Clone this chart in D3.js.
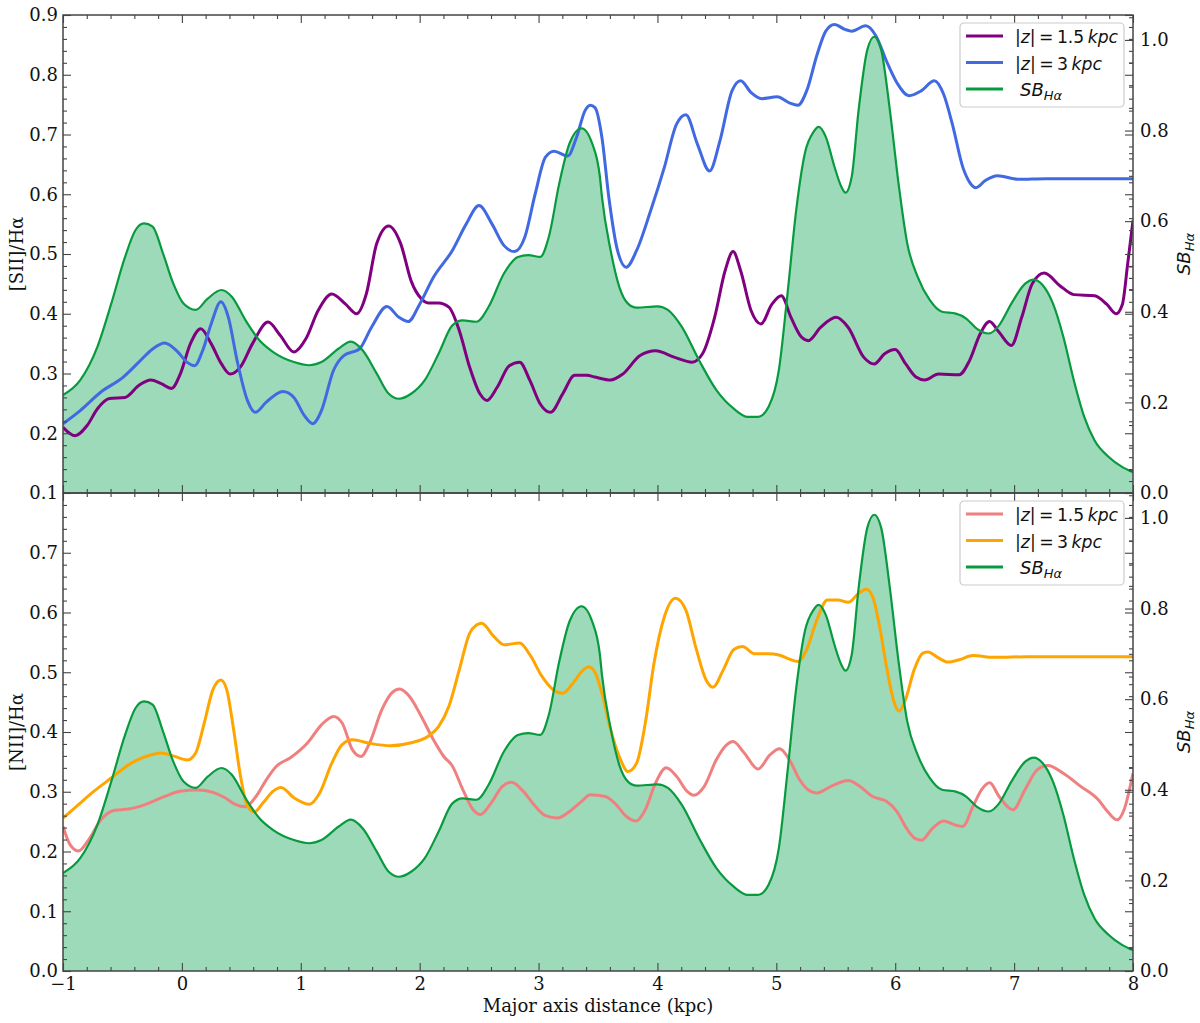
<!DOCTYPE html>
<html>
<head>
<meta charset="utf-8">
<script src="https://cdn.jsdelivr.net/npm/d3@7"></script>
<style>
  body { margin: 0; background: #fff; }
  svg text { fill: #111; }
</style>
</head>
<body>
<div id="chart"></div>
<script>
// data: [distance (kpc), value]
let sbHa = [[-1.0,0.216],[-0.855,0.249],[-0.71,0.323],[-0.594,0.418],[-0.478,0.521],[-0.391,0.580],[-0.319,0.595],[-0.246,0.588],[-0.159,0.529],[-0.072,0.462],[0.014,0.418],[0.116,0.404],[0.217,0.429],[0.333,0.448],[0.42,0.433],[0.536,0.381],[0.652,0.337],[0.768,0.311],[0.942,0.289],[1.072,0.282],[1.174,0.289],[1.319,0.319],[1.42,0.334],[1.52,0.315],[1.638,0.264],[1.74,0.219],[1.826,0.208],[1.928,0.219],[2.043,0.249],[2.16,0.308],[2.275,0.370],[2.362,0.381],[2.478,0.378],[2.58,0.411],[2.71,0.485],[2.826,0.521],[2.913,0.525],[3.014,0.521],[3.087,0.566],[3.174,0.683],[3.261,0.772],[3.362,0.805],[3.45,0.772],[3.516,0.698],[3.533,0.654],[3.606,0.536],[3.679,0.455],[3.752,0.418],[3.825,0.409],[4.0,0.412],[4.088,0.404],[4.204,0.367],[4.35,0.293],[4.496,0.227],[4.642,0.186],[4.759,0.168],[4.846,0.168],[4.934,0.19],[5.021,0.271],[5.094,0.440],[5.167,0.624],[5.24,0.750],[5.313,0.797],[5.357,0.808],[5.416,0.786],[5.489,0.720],[5.547,0.676],[5.582,0.663],[5.634,0.698],[5.692,0.845],[5.765,0.978],[5.824,1.007],[5.882,0.978],[5.955,0.845],[6.028,0.683],[6.101,0.551],[6.189,0.477],[6.29,0.426],[6.393,0.4],[6.51,0.396],[6.597,0.385],[6.685,0.363],[6.787,0.352],[6.874,0.370],[6.977,0.418],[7.093,0.462],[7.166,0.471],[7.239,0.459],[7.327,0.418],[7.414,0.345],[7.502,0.249],[7.59,0.168],[7.677,0.116],[7.794,0.080],[7.911,0.057],[8.0,0.046]];

let sii15 = [[-1.0,0.210],[-0.899,0.196],[-0.797,0.213],[-0.71,0.241],[-0.609,0.258],[-0.478,0.260],[-0.362,0.280],[-0.261,0.289],[-0.174,0.283],[-0.087,0.275],[-0.014,0.299],[0.072,0.350],[0.159,0.375],[0.246,0.350],[0.333,0.316],[0.406,0.299],[0.493,0.311],[0.594,0.350],[0.725,0.386],[0.826,0.364],[0.942,0.336],[1.043,0.358],[1.145,0.405],[1.261,0.433],[1.377,0.416],[1.47,0.400],[1.551,0.433],[1.638,0.517],[1.739,0.547],[1.841,0.517],[1.928,0.455],[2.014,0.425],[2.072,0.418],[2.159,0.418],[2.246,0.411],[2.333,0.372],[2.42,0.311],[2.507,0.266],[2.565,0.255],[2.652,0.277],[2.754,0.313],[2.841,0.319],[2.928,0.288],[3.014,0.249],[3.101,0.235],[3.203,0.266],[3.304,0.297],[3.406,0.297],[3.475,0.294],[3.606,0.289],[3.708,0.299],[3.854,0.330],[3.985,0.338],[4.146,0.327],[4.292,0.319],[4.379,0.333],[4.481,0.394],[4.569,0.472],[4.636,0.504],[4.7,0.472],[4.788,0.405],[4.87,0.383],[4.963,0.416],[5.042,0.430],[5.123,0.394],[5.211,0.361],[5.269,0.355],[5.372,0.377],[5.503,0.394],[5.605,0.377],[5.736,0.327],[5.824,0.316],[5.911,0.333],[6.0,0.340],[6.088,0.316],[6.175,0.294],[6.248,0.289],[6.365,0.299],[6.539,0.298],[6.626,0.322],[6.714,0.366],[6.793,0.387],[6.874,0.369],[6.977,0.347],[7.064,0.394],[7.152,0.450],[7.254,0.468],[7.385,0.447],[7.502,0.432],[7.677,0.430],[7.779,0.416],[7.858,0.400],[7.911,0.416],[7.955,0.483],[8.0,0.556]];

let sii3 = [[-1.0,0.216],[-0.855,0.238],[-0.681,0.269],[-0.493,0.294],[-0.362,0.319],[-0.246,0.341],[-0.145,0.351],[-0.043,0.338],[0.043,0.319],[0.107,0.313],[0.174,0.338],[0.246,0.383],[0.328,0.420],[0.391,0.394],[0.464,0.322],[0.551,0.255],[0.617,0.235],[0.71,0.252],[0.849,0.270],[0.942,0.260],[1.029,0.230],[1.101,0.216],[1.174,0.238],[1.275,0.305],[1.362,0.330],[1.493,0.341],[1.594,0.377],[1.725,0.412],[1.826,0.394],[1.904,0.387],[2.0,0.416],[2.116,0.461],[2.275,0.506],[2.391,0.550],[2.499,0.581],[2.609,0.550],[2.71,0.514],[2.797,0.504],[2.884,0.528],[2.971,0.600],[3.058,0.662],[3.13,0.672],[3.246,0.664],[3.319,0.695],[3.391,0.740],[3.435,0.749],[3.475,0.745],[3.533,0.695],[3.591,0.595],[3.664,0.506],[3.737,0.478],[3.825,0.506],[3.942,0.572],[4.058,0.645],[4.16,0.717],[4.239,0.733],[4.336,0.684],[4.438,0.639],[4.525,0.689],[4.627,0.773],[4.7,0.790],[4.788,0.770],[4.876,0.760],[5.007,0.763],[5.109,0.753],[5.182,0.749],[5.255,0.773],[5.343,0.834],[5.416,0.873],[5.489,0.884],[5.576,0.876],[5.634,0.873],[5.751,0.882],[5.838,0.865],[5.926,0.823],[6.013,0.787],[6.116,0.765],[6.218,0.773],[6.329,0.790],[6.408,0.767],[6.481,0.717],[6.569,0.645],[6.626,0.620],[6.679,0.611],[6.758,0.623],[6.86,0.631],[7.035,0.625],[7.268,0.626],[8.0,0.626]];

let nii15 = [[-1.0,0.242],[-0.942,0.212],[-0.870,0.201],[-0.783,0.220],[-0.681,0.253],[-0.565,0.269],[-0.449,0.271],[-0.304,0.279],[-0.159,0.291],[-0.014,0.301],[0.13,0.303],[0.261,0.299],[0.362,0.290],[0.449,0.279],[0.536,0.275],[0.623,0.292],[0.71,0.320],[0.797,0.343],[0.913,0.357],[1.058,0.382],[1.174,0.412],[1.275,0.426],[1.348,0.415],[1.435,0.370],[1.507,0.359],[1.58,0.382],[1.681,0.437],[1.768,0.466],[1.832,0.472],[1.913,0.460],[2.014,0.426],[2.116,0.387],[2.203,0.359],[2.275,0.343],[2.362,0.304],[2.449,0.270],[2.513,0.262],[2.594,0.279],[2.696,0.309],[2.774,0.316],[2.87,0.301],[2.971,0.276],[3.058,0.260],[3.159,0.256],[3.261,0.267],[3.362,0.284],[3.435,0.295],[3.562,0.292],[3.65,0.279],[3.737,0.259],[3.819,0.251],[3.898,0.270],[3.985,0.315],[4.073,0.340],[4.16,0.326],[4.248,0.301],[4.306,0.294],[4.394,0.309],[4.496,0.354],[4.584,0.379],[4.636,0.384],[4.73,0.365],[4.846,0.338],[4.948,0.362],[5.027,0.372],[5.109,0.354],[5.196,0.320],[5.284,0.301],[5.342,0.298],[5.459,0.309],[5.605,0.319],[5.722,0.306],[5.809,0.292],[5.926,0.284],[6.013,0.267],[6.101,0.237],[6.174,0.221],[6.224,0.219],[6.305,0.237],[6.407,0.251],[6.495,0.245],[6.568,0.242],[6.655,0.276],[6.728,0.304],[6.795,0.315],[6.874,0.292],[6.991,0.270],[7.093,0.304],[7.195,0.337],[7.283,0.344],[7.414,0.331],[7.56,0.309],[7.706,0.287],[7.794,0.265],[7.866,0.253],[7.925,0.270],[8.0,0.331]];

let nii3 = [[-1.0,0.256],[-0.884,0.276],[-0.739,0.301],[-0.594,0.323],[-0.449,0.345],[-0.304,0.359],[-0.174,0.365],[-0.072,0.360],[0.043,0.353],[0.116,0.365],[0.188,0.415],[0.261,0.471],[0.328,0.487],[0.377,0.471],[0.435,0.404],[0.493,0.326],[0.551,0.276],[0.609,0.266],[0.681,0.281],[0.768,0.301],[0.835,0.307],[0.942,0.290],[1.072,0.279],[1.159,0.298],[1.261,0.348],[1.348,0.379],[1.435,0.387],[1.58,0.381],[1.754,0.377],[1.928,0.382],[2.072,0.393],[2.159,0.409],[2.246,0.443],[2.333,0.504],[2.42,0.565],[2.478,0.579],[2.522,0.582],[2.623,0.560],[2.71,0.546],[2.841,0.549],[2.928,0.529],[3.029,0.493],[3.116,0.472],[3.203,0.465],[3.29,0.482],[3.377,0.504],[3.42,0.509],[3.475,0.500],[3.533,0.465],[3.606,0.404],[3.679,0.359],[3.752,0.334],[3.825,0.348],[3.898,0.415],[3.971,0.515],[4.058,0.593],[4.152,0.624],[4.239,0.604],[4.321,0.543],[4.409,0.487],[4.467,0.475],[4.554,0.504],[4.642,0.538],[4.715,0.543],[4.817,0.531],[4.934,0.531],[5.021,0.529],[5.109,0.522],[5.182,0.518],[5.255,0.538],[5.342,0.588],[5.43,0.621],[5.517,0.621],[5.605,0.617],[5.692,0.632],[5.757,0.639],[5.809,0.627],[5.868,0.577],[5.926,0.510],[5.984,0.454],[6.034,0.435],[6.086,0.454],[6.159,0.504],[6.232,0.532],[6.276,0.534],[6.363,0.524],[6.445,0.517],[6.539,0.521],[6.655,0.528],[6.83,0.525],[7.122,0.526],[8.0,0.526]];

let xMajor = d3.range(-1, 9, 1);
let topLeftTicks = [0.1, 0.2, 0.3, 0.4, 0.5, 0.6, 0.7, 0.8, 0.9];
let botLeftTicks = [0.0, 0.1, 0.2, 0.3, 0.4, 0.5, 0.6, 0.7];
let sbTicks = [0.0, 0.2, 0.4, 0.6, 0.8, 1.0];

let svgWidth = 1200;
let svgHeight = 1023;
let left = 63, right = 1133;
let topY0 = 15, midY = 493, botY1 = 971;

let svg = d3.select("#chart").append("svg")
    .attr("width", svgWidth)
    .attr("height", svgHeight);

let xScale = d3.scaleLinear().domain([-1, 8]).range([left, right]);

let serif = "DejaVu Serif";
let sans = "DejaVu Sans";
let spineColor = "#444";

// helper: draw one panel
function drawPanel(cfg) {
    let yL = d3.scaleLinear().domain(cfg.yDomain).range([cfg.y1, cfg.y0]);
    let yR = d3.scaleLinear().domain([0, 1.055]).range([cfg.y1, cfg.y0]);

    let g = svg.append("g");
    g.append("defs").append("clipPath").attr("id", cfg.id)
        .append("rect").attr("x", left).attr("y", cfg.y0)
        .attr("width", right - left).attr("height", cfg.y1 - cfg.y0);

    let plot = g.append("g").attr("clip-path", `url(#${cfg.id})`);

    // SB fill + line on twin axis
    let area = d3.area().x(d => xScale(d[0])).y0(yR(0)).y1(d => yR(d[1])).curve(d3.curveMonotoneX);
    plot.append("path").datum(sbHa).attr("d", area).attr("fill", "#9ddab9");
    let sbLine = d3.line().x(d => xScale(d[0])).y(d => yR(d[1])).curve(d3.curveMonotoneX);

    let line = d3.line().x(d => xScale(d[0])).y(d => yL(d[1])).curve(d3.curveMonotoneX);
    plot.append("path").datum(cfg.s1).attr("d", line).attr("fill", "none")
        .attr("stroke", cfg.c1).attr("stroke-width", 3);
    plot.append("path").datum(cfg.s2).attr("d", line).attr("fill", "none")
        .attr("stroke", cfg.c2).attr("stroke-width", 3);
    plot.append("path").datum(sbHa).attr("d", sbLine).attr("fill", "none")
        .attr("stroke", "#089a3e").attr("stroke-width", 2.2);

    // ticks (all pointing inward)
    let tickStyle = sel => {
        sel.select(".domain").remove();
        sel.selectAll("line").attr("stroke", spineColor).attr("stroke-width", 1.1);
        sel.selectAll("text").attr("font-family", serif).attr("font-size", 18).attr("fill", "#111");
    };
    let xMinor = d3.range(-1, 8.01, 0.2).filter(v => Math.abs(v - Math.round(v)) > 0.01);
    let lMinor = d3.range(cfg.yDomain[0], cfg.yDomain[1] + 0.001, 0.02).filter(v => Math.abs(v * 10 - Math.round(v * 10)) > 0.01);
    let rMinor = d3.range(0, 1.06, 0.05).filter(v => Math.abs(v * 5 - Math.round(v * 5)) > 0.01);

    // bottom
    let bx = g.append("g").attr("transform", `translate(0,${cfg.y1})`)
        .call(d3.axisBottom(xScale).tickValues(xMajor).tickSizeInner(-8).tickSizeOuter(0).tickPadding(6)
            .tickFormat(cfg.xLabels ? d3.format("") : ""));
    tickStyle(bx);
    bx.selectAll("text").text(d => cfg.xLabels ? String(d).replace("-", "\u2212") : "");
    g.append("g").attr("transform", `translate(0,${cfg.y1})`)
        .call(d3.axisBottom(xScale).tickValues(xMinor).tickSizeInner(-4).tickSizeOuter(0).tickFormat(""))
        .call(tickStyle);
    // top
    g.append("g").attr("transform", `translate(0,${cfg.y0})`)
        .call(d3.axisTop(xScale).tickValues(xMajor).tickSizeInner(-8).tickSizeOuter(0).tickFormat(""))
        .call(tickStyle);
    g.append("g").attr("transform", `translate(0,${cfg.y0})`)
        .call(d3.axisTop(xScale).tickValues(xMinor).tickSizeInner(-4).tickSizeOuter(0).tickFormat(""))
        .call(tickStyle);
    // left
    g.append("g").attr("transform", `translate(${left},0)`)
        .call(d3.axisLeft(yL).tickValues(cfg.leftTicks).tickSizeInner(-8).tickSizeOuter(0).tickPadding(5).tickFormat(d3.format(".1f")))
        .call(tickStyle);
    g.append("g").attr("transform", `translate(${left},0)`)
        .call(d3.axisLeft(yL).tickValues(lMinor).tickSizeInner(-4).tickSizeOuter(0).tickFormat(""))
        .call(tickStyle);
    // right: mirrored left ticks + SB ticks
    g.append("g").attr("transform", `translate(${right},0)`)
        .call(d3.axisRight(yL).tickValues(cfg.leftTicks).tickSizeInner(-8).tickSizeOuter(0).tickFormat(""))
        .call(tickStyle);
    g.append("g").attr("transform", `translate(${right},0)`)
        .call(d3.axisRight(yL).tickValues(lMinor).tickSizeInner(-4).tickSizeOuter(0).tickFormat(""))
        .call(tickStyle);
    g.append("g").attr("transform", `translate(${right},0)`)
        .call(d3.axisRight(yR).tickValues(sbTicks).tickSizeInner(-8).tickSizeOuter(0).tickPadding(7).tickFormat(d3.format(".1f")))
        .call(tickStyle);
    g.append("g").attr("transform", `translate(${right},0)`)
        .call(d3.axisRight(yR).tickValues(rMinor).tickSizeInner(-4).tickSizeOuter(0).tickFormat(""))
        .call(tickStyle);

    // frame
    g.append("rect").attr("x", left).attr("y", cfg.y0)
        .attr("width", right - left).attr("height", cfg.y1 - cfg.y0)
        .attr("fill", "none").attr("stroke", spineColor).attr("stroke-width", 1.5);

    // left y label
    let midPanel = (cfg.y0 + cfg.y1) / 2;
    g.append("text")
        .attr("transform", `translate(23,${midPanel}) rotate(-90)`)
        .attr("text-anchor", "middle")
        .attr("font-family", serif).attr("font-size", 18)
        .text(cfg.yLabel);

    // right y label SB_Ha
    let yr = g.append("text")
        .attr("transform", `translate(1190,${midPanel}) rotate(-90)`)
        .attr("text-anchor", "middle")
        .attr("font-family", sans).attr("font-size", 18).attr("font-style", "italic");
    yr.append("tspan").text("SB");
    yr.append("tspan").attr("font-size", 13).attr("dy", 4).text("H\u03b1");

    // legend
    let lg = g.append("g").attr("transform", `translate(960,${cfg.y0 + 8})`);
    lg.append("rect").attr("width", 164).attr("height", 84).attr("rx", 4)
        .attr("fill", "#fff").attr("fill-opacity", 0.85)
        .attr("stroke", "#ccc").attr("stroke-width", 1.2);
    let entries = [
        {c: cfg.c1, k: "1.5", w: 103},
        {c: cfg.c2, k: "3", w: 87},
        {c: "#089a3e", k: null, w: 0}
    ];
    entries.forEach((e, i) => {
        let yy = 13 + i * 26.5;
        lg.append("line").attr("x1", 6).attr("x2", 43).attr("y1", yy).attr("y2", yy)
            .attr("stroke", e.c).attr("stroke-width", 3);
        let t = lg.append("text").attr("x", e.k ? 55 : 60).attr("y", yy + 7)
            .attr("font-family", sans).attr("font-size", 18);
        if (e.k) {
            t.attr("textLength", e.w).attr("lengthAdjust", "spacingAndGlyphs");
            t.append("tspan").text("|");
            t.append("tspan").attr("font-style", "italic").text("z");
            t.append("tspan").text("|\u2009=\u2009" + e.k + "\u2009");
            t.append("tspan").attr("font-style", "italic").text("kpc");
        } else {
            t.append("tspan").attr("font-style", "italic").text("SB");
            t.append("tspan").attr("font-style", "italic").attr("font-size", 13).attr("dy", 4).text("H\u03b1");
        }
    });
}

drawPanel({
    id: "clipTop", y0: topY0, y1: midY, yDomain: [0.1, 0.9], leftTicks: topLeftTicks,
    s1: sii15, s2: sii3, c1: "#800080", c2: "#4169e1",
    yLabel: "[SII]/H\u03b1", xLabels: false
});

drawPanel({
    id: "clipBot", y0: midY, y1: botY1, yDomain: [0.0, 0.8], leftTicks: botLeftTicks,
    s1: nii15, s2: nii3, c1: "#f08080", c2: "#ffa500",
    yLabel: "[NII]/H\u03b1", xLabels: true
});

// x axis title
svg.append("text")
    .attr("x", (left + right) / 2).attr("y", 1012)
    .attr("text-anchor", "middle")
    .attr("font-family", serif).attr("font-size", 18)
    .text("Major axis distance (kpc)");
</script>
</body>
</html>
